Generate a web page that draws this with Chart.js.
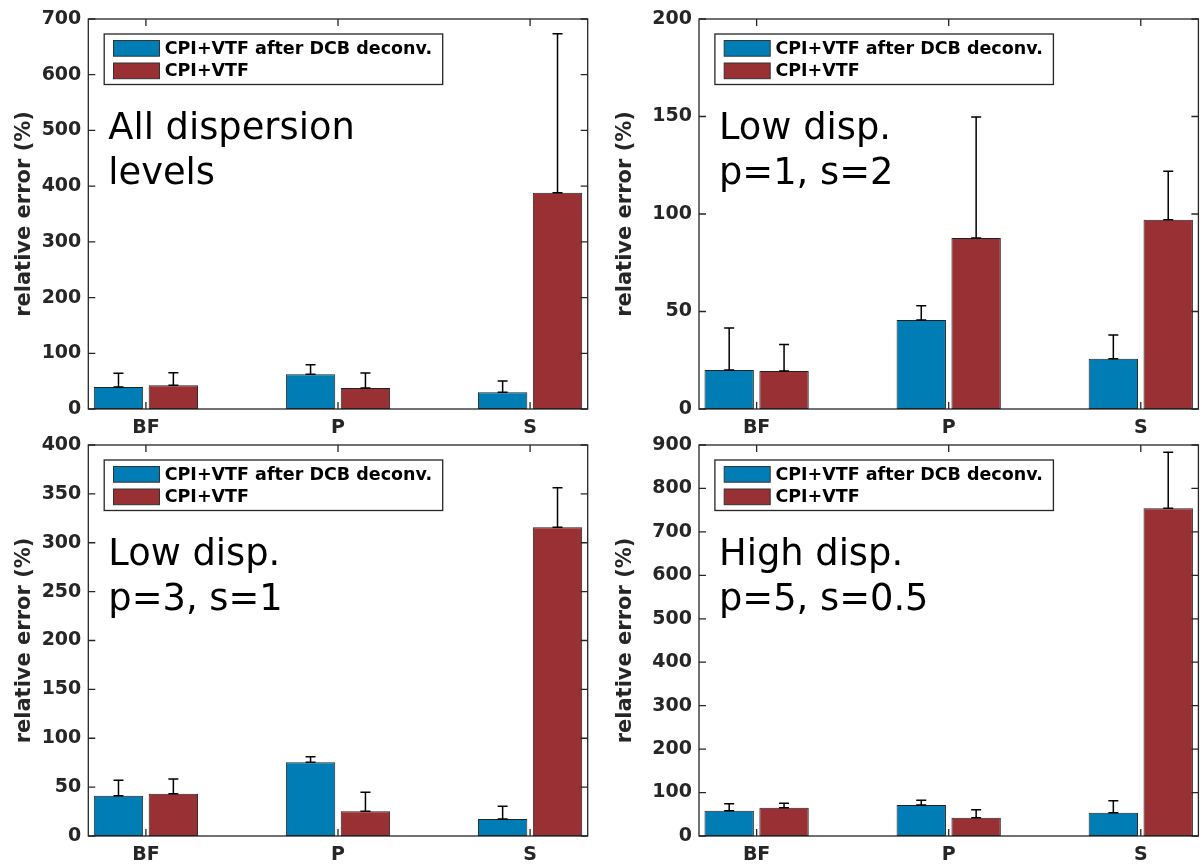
<!DOCTYPE html>
<html><head><meta charset="utf-8">
<script src="https://cdn.jsdelivr.net/npm/chart.js@4.4.0/dist/chart.umd.min.js"></script>
<style>
html,body{margin:0;padding:0;background:#fff;}
body{width:1202px;height:868px;position:relative;overflow:hidden;}
canvas{position:absolute;}
</style></head><body>
<canvas id="cTL" width="601" height="445" style="left:0;top:0;width:601px;height:445px"></canvas>
<canvas id="cTR" width="601" height="445" style="left:601px;top:0;width:601px;height:445px"></canvas>
<canvas id="cBL" width="601" height="443" style="left:0;top:425px;width:601px;height:443px"></canvas>
<canvas id="cBR" width="601" height="443" style="left:601px;top:425px;width:601px;height:443px"></canvas>
<script>
// ---- data ----
const categories = ['BF', 'P', 'S'];
const seriesLabels = ['CPI+VTF after DCB deconv.', 'CPI+VTF'];
const yTitle = 'relative error (%)';

// All dispersion levels
const allDeconv    = [39.5, 62.3, 30.0];
const allDeconvErr = [24.5, 17.2, 20.3];
const allPlain     = [42.5, 37.7, 388.0];
const allPlainErr  = [22.7, 26.9, 285.6];
const allTicks     = [0, 100, 200, 300, 400, 500, 600, 700];
const allNote      = ['All dispersion', 'levels'];

// Low disp. p=1, s=2
const low1Deconv    = [20.0, 45.7, 25.8];
const low1DeconvErr = [21.6, 7.2, 12.2];
const low1Plain     = [19.5, 87.7, 97.1];
const low1PlainErr  = [13.6, 62.0, 24.8];
const low1Ticks     = [0, 50, 100, 150, 200];
const low1Note      = ['Low disp.', 'p=1, s=2'];

// Low disp. p=3, s=1
const low3Deconv    = [41.3, 75.5, 17.4];
const low3DeconvErr = [15.7, 5.5, 13.0];
const low3Plain     = [43.3, 25.3, 315.9];
const low3PlainErr  = [15.1, 19.5, 40.3];
const low3Ticks     = [0, 50, 100, 150, 200, 250, 300, 350, 400];
const low3Note      = ['Low disp.', 'p=3, s=1'];

// High disp. p=5, s=0.5
const highDeconv    = [58.3, 71.4, 53.7];
const highDeconvErr = [16.1, 10.7, 27.6];
const highPlain     = [65.2, 42.2, 754.4];
const highPlainErr  = [10.0, 18.4, 128.9];
const highTicks     = [0, 100, 200, 300, 400, 500, 600, 700, 800, 900];
const highNote      = ['High disp.', 'p=5, s=0.5'];

// ---- style ----
const FONT = 'DejaVu Sans';
const BLUE = '#007db5';
const RED = '#993034';
const AXC = '#262626';

const framePlugin = {
  id: 'frame',
  afterDatasetsDraw(chart) {
    const ctx = chart.ctx;
    const ys = chart.scales.y;
    chart.data.datasets.forEach((ds, di) => {
      const meta = chart.getDatasetMeta(di);
      meta.data.forEach((bar, i) => {
        const v = ds.data[i].y, e = ds.errors[i];
        const x = bar.x, y0 = ys.getPixelForValue(v), y1 = ys.getPixelForValue(v + e);
        ctx.save();
        ctx.strokeStyle = '#000'; ctx.lineWidth = 1.5;
        ctx.beginPath();
        ctx.moveTo(x, y0); ctx.lineTo(x, y1);
        ctx.moveTo(x - 5, y1); ctx.lineTo(x + 5, y1);
        ctx.moveTo(x - 5, y0); ctx.lineTo(x + 5, y0);
        ctx.stroke();
        ctx.restore();
      });
    });
  },
  afterDraw(chart) {
    const ctx = chart.ctx;
    const ca = chart.chartArea;
    const xs = chart.scales.x, ys = chart.scales.y;
    ctx.save();
    ctx.strokeStyle = AXC; ctx.lineWidth = 1.3;
    ctx.beginPath();
    ys.ticks.forEach(t => {
      const p = ys.getPixelForValue(t.value);
      ctx.moveTo(ca.left, p); ctx.lineTo(ca.left + 7, p);
      ctx.moveTo(ca.right, p); ctx.lineTo(ca.right - 7, p);
    });
    xs.ticks.forEach(t => {
      const p = xs.getPixelForValue(t.value);
      ctx.moveTo(p, ca.top); ctx.lineTo(p, ca.top + 7);
      ctx.moveTo(p, ca.bottom); ctx.lineTo(p, ca.bottom - 7);
    });
    ctx.stroke();
    ctx.strokeRect(ca.left, ca.top, ca.right - ca.left, ca.bottom - ca.top);
    // legend
    const bx = ca.left + 15.9, by = ca.top + 15, bw = 338.5, bh = 50.5;
    ctx.fillStyle = '#fff';
    ctx.fillRect(bx, by, bw, bh);
    ctx.lineWidth = 1.3; ctx.strokeStyle = AXC;
    ctx.strokeRect(bx, by, bw, bh);
    ctx.font = 'bold 17.5px "' + FONT + '"';
    ctx.textBaseline = 'middle'; ctx.textAlign = 'left';
    chart.data.datasets.forEach((ds, i) => {
      const sy = by + 6.5 + i * 22.5;
      ctx.fillStyle = ds.backgroundColor;
      ctx.fillRect(bx + 9.3, sy, 46, 15.7);
      ctx.lineWidth = 1; ctx.strokeStyle = '#333';
      ctx.strokeRect(bx + 9.3, sy, 46, 15.7);
      ctx.fillStyle = '#000';
      ctx.fillText(ds.label, bx + 60.5, sy + 8.5);
    });
    // annotation
    const note = chart.options.plugins.frame.note;
    ctx.font = '36.8px "' + FONT + '"';
    ctx.textBaseline = 'alphabetic';
    ctx.fillStyle = '#000';
    note.forEach((line, i) => ctx.fillText(line, ca.left + 20, ca.top + 119.5 + i * 45.5));
    ctx.restore();
  }
};

function makeChart(id, p) {
  const canvas = document.getElementById(id);
  const W = canvas.width, H = canvas.height;
  const tickFont = { family: FONT, size: 19, weight: 'bold' };
  new Chart(canvas, {
    type: 'bar',
    data: {
      datasets: [
        { label: seriesLabels[0], data: categories.map((c, i) => ({ x: i + 1, y: p.a[i] })), errors: p.ae,
          backgroundColor: BLUE, borderColor: '#222', borderWidth: 1, borderSkipped: false,
          categoryPercentage: 0.5714, barPercentage: 0.9 },
        { label: seriesLabels[1], data: categories.map((c, i) => ({ x: i + 1, y: p.b[i] })), errors: p.be,
          backgroundColor: RED, borderColor: '#222', borderWidth: 1, borderSkipped: false,
          categoryPercentage: 0.5714, barPercentage: 0.9 }
      ]
    },
    options: {
      responsive: false, animation: false, devicePixelRatio: 1,
      layout: { padding: { left: 0, top: p.top, right: W - p.right, bottom: H - p.bottom - 30 } },
      plugins: { legend: { display: false }, tooltip: { enabled: false }, frame: { note: p.note } },
      scales: {
        x: {
          type: 'linear', min: 0.7, max: 3.3, offset: false,
          grid: { display: false, drawTicks: false, offset: false }, border: { display: false },
          afterBuildTicks: s => { s.ticks = categories.map((c, i) => ({ value: i + 1 })); },
          afterFit: s => { s.height = 30; },
          ticks: { callback: v => categories[Math.round(v) - 1], font: tickFont, color: AXC, padding: 8, autoSkip: false, maxRotation: 0 }
        },
        y: {
          min: p.ticks[0], max: p.ticks[p.ticks.length - 1],
          grid: { display: false, drawTicks: false }, border: { display: false },
          afterBuildTicks: s => { s.ticks = p.ticks.map(v => ({ value: v })); },
          afterFit: s => { s.width = p.left; },
          ticks: { font: tickFont, color: AXC, padding: 7 },
          title: { display: true, text: yTitle, font: { family: FONT, size: 21, weight: 'bold' }, color: AXC, padding: { top: 12, bottom: 0 } }
        }
      }
    },
    plugins: [framePlugin]
  });
}

makeChart('cTL', { a: allDeconv, ae: allDeconvErr, b: allPlain, be: allPlainErr, ticks: allTicks, note: allNote, left: 88.3, top: 19, right: 587.7, bottom: 409 });
makeChart('cTR', { a: low1Deconv, ae: low1DeconvErr, b: low1Plain, be: low1PlainErr, ticks: low1Ticks, note: low1Note, left: 98, top: 19, right: 597.4, bottom: 409 });
makeChart('cBL', { a: low3Deconv, ae: low3DeconvErr, b: low3Plain, be: low3PlainErr, ticks: low3Ticks, note: low3Note, left: 88.3, top: 20, right: 587.7, bottom: 411 });
makeChart('cBR', { a: highDeconv, ae: highDeconvErr, b: highPlain, be: highPlainErr, ticks: highTicks, note: highNote, left: 98, top: 20, right: 597.4, bottom: 411 });
</script>
</body></html>
